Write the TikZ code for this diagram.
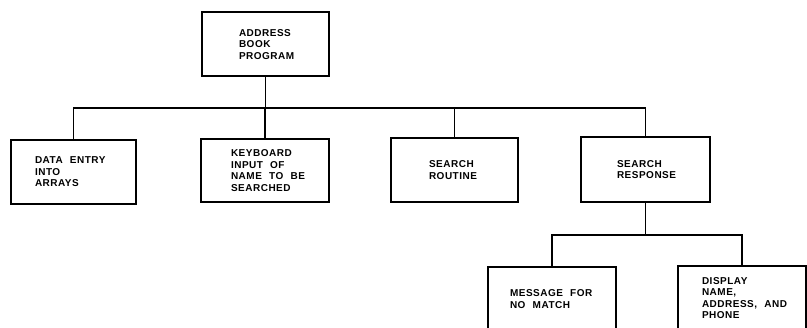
\documentclass[tikz,border=0pt]{standalone}
\usepackage{fontspec}
\setmainfont{Liberation Sans}[LetterSpace=5,WordSpace=2.2]
\begin{document}
\begin{tikzpicture}[x=1pt,y=-1pt,
  line width=1.4pt, line join=miter,
  box/.style={draw, rectangle, inner sep=0pt, minimum width=#1, minimum height=64pt},
  lbl/.style={anchor=west, align=left, inner sep=0pt,
    font=\fontsize{10}{11.6}\selectfont\bfseries}]
\useasboundingbox (0,0) rectangle (807,328);
\begin{scope}
\clip (0,0) rectangle (807,328);

% boxes
\node[box=127pt] (top) at (265.5,44) {};
\node[box=125pt] (b1) at (73.5,172) {};
\node[box=128pt,minimum height=63pt] (b2) at (265,170.5) {};
\node[box=127pt] (b3) at (454.5,170) {};
\node[box=129pt,minimum height=65pt] (b4) at (645.5,169.5) {};
\node[box=128pt] (c1) at (552,299) {};
\node[box=128pt] (c2) at (742,298) {};

% labels
\node[lbl] (ttop) at ([xshift=37pt,yshift=-0.5pt]top.west) {ADDRESS\\BOOK\\PROGRAM};
\node[lbl] (tb1) at ([xshift=24pt]b1.west) {DATA ENTRY\\INTO\\ARRAYS};
\node[lbl] (tb2) at ([xshift=30pt]b2.west) {KEYBOARD\\INPUT OF\\NAME TO BE\\SEARCHED};
\node[lbl] (tb3) at ([xshift=38pt]b3.west) {SEARCH\\ROUTINE};
\node[lbl] (tb4) at ([xshift=36pt]b4.west) {SEARCH\\RESPONSE};
\node[lbl] (tc1) at ([xshift=22pt]c1.west) {MESSAGE FOR\\NO MATCH};
\node[lbl] (tc2) at ([xshift=24pt]c2.west) {DISPLAY\\NAME,\\ADDRESS, AND\\PHONE};

% bus lines
\coordinate (bus) at (0,108);
\coordinate (sub) at (0,235);

% connectors
\draw (top.south) -- (top.south |- bus);
\draw (b1.north) -- (b1.north |- bus) -- (b4.north |- bus) -- (b4.north);
\draw (b2.north) -- (b2.north |- bus);
\draw (b3.north) -- (b3.north |- bus);
\draw (b4.south) -- (b4.south |- sub);
\draw (c1.north) -- (c1.north |- sub) -- (c2.north |- sub) -- (c2.north);
\end{scope}
\end{tikzpicture}
\end{document}
